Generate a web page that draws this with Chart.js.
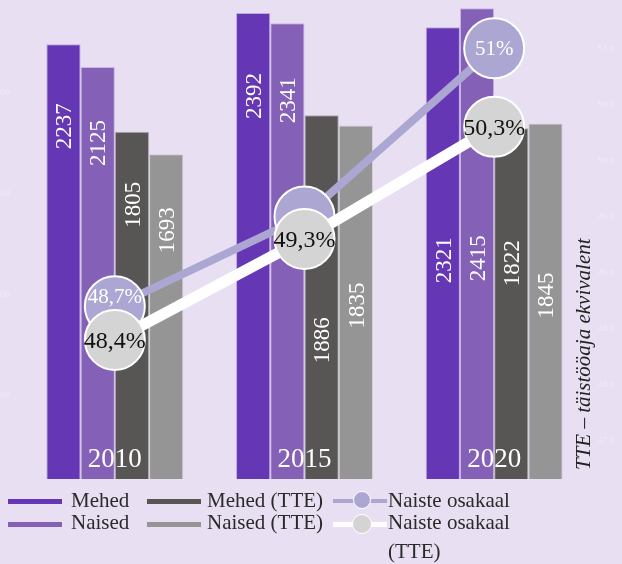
<!DOCTYPE html>
<html><head><meta charset="utf-8">
<script src="https://cdn.jsdelivr.net/npm/chart.js@4"></script>
<style>
html,body{margin:0;padding:0;background:#e8e0f2;}
#wrap{position:relative;width:622px;height:564px;overflow:hidden;background:#e8e0f2;}
canvas{position:absolute;left:0;top:0;}
.lg{position:absolute;font-family:"Liberation Serif",serif;font-size:21px;line-height:21px;color:#2a2a2a;white-space:nowrap;}
.mk{position:absolute;height:5px;width:54px;}
.dot{position:absolute;width:18px;height:18px;border-radius:50%;border:1.5px solid #fff;box-sizing:border-box;}
</style></head><body>
<div id="wrap">
<canvas id="c" width="622" height="564"></canvas>
<div class="mk" style="left:8px;top:499px;background:#6537b4"></div>
<div class="lg" style="left:71px;top:490px">Mehed</div>
<div class="mk" style="left:8px;top:522px;background:#8460b7"></div>
<div class="lg" style="left:71px;top:512px">Naised</div>
<div class="mk" style="left:147px;top:499px;background:#585654"></div>
<div class="lg" style="left:207px;top:490px">Mehed (TTE)</div>
<div class="mk" style="left:147px;top:522px;background:#959595"></div>
<div class="lg" style="left:207px;top:512px">Naised (TTE)</div>
<div class="mk" style="left:333px;top:499px;height:4px;background:#aca6d3"></div>
<div class="dot" style="left:353px;top:491px;background:#aca6d3"></div>
<div class="lg" style="left:388px;top:490px">Naiste osakaal</div>
<div class="mk" style="left:333px;top:522px;background:#ffffff"></div>
<div class="dot" style="left:352px;top:514px;width:20px;height:20px;background:#d4d4d4"></div>
<div class="lg" style="left:388px;top:508px;line-height:29px">Naiste osakaal<br>(TTE)</div>
</div>
<script>
const categories = ['2010', '2015', '2020'];
const mehed = [2237, 2392, 2321];
const naised = [2125, 2341, 2415];
const mehedTTE = [1805, 1886, 1822];
const naisedTTE = [1693, 1835, 1845];
const naisteOsakaal = [48.7, 49.5, 51.0];
const naisteOsakaalTTE = [48.4, 49.3, 50.3];
const leftTicks = [500, 1000, 1500, 2000];
const rightTicks = [47.5, 48.0, 48.5, 49.0, 49.5, 50.0, 50.5, 51.0];
const sideNote = 'TTE – täistööaja ekvivalent';

// layout: how far (px) below each bar top its value label starts [dataset][category]
const barLabelDrop = [[59, 60, 210], [53, 54, 227], [50, 202, 112], [53, 157, 149]];

const SERIF = '"Liberation Serif", serif';
function fmtPct(v) {
  return (Number.isInteger(v) ? String(v) : v.toFixed(1).replace('.', ',')) + '%';
}

const labelPlugin = {
  id: 'labels',
  afterDatasetDraw(chart, args) {
    const ctx = chart.ctx;
    const meta = args.meta;
    const di = args.index;
    ctx.save();
    if (meta.type === 'bar') {
      const fs = 23;
      ctx.font = fs + 'px ' + SERIF;
      ctx.fillStyle = '#ffffff';
      ctx.textAlign = 'right';
      ctx.textBaseline = 'alphabetic';
      meta.data.forEach((bar, i) => {
        const v = chart.data.datasets[di].data[i];
        ctx.save();
        ctx.translate(bar.x + 0.338 * fs, bar.y + barLabelDrop[di][i]);
        ctx.rotate(-Math.PI / 2);
        ctx.fillText(String(v), 0, 0);
        ctx.restore();
      });
    } else if (meta.type === 'line') {
      const ds = chart.data.datasets[di];
      const fs = ds.labelSize;
      ctx.font = fs + 'px ' + SERIF;
      ctx.fillStyle = ds.labelColor;
      ctx.textAlign = 'center';
      ctx.textBaseline = 'alphabetic';
      const otherMeta = ds.avoid != null ? chart.getDatasetMeta(ds.avoid) : null;
      meta.data.forEach((pt, i) => {
        let cy = pt.y;
        if (otherMeta) {
          const o = otherMeta.data[i];
          const d = Math.abs(o.y - pt.y);
          if (d < 25) return; // fully hidden behind the other circle
          const limit = o.y - 31 - 6 - 0.338 * fs;
          if (o.y > pt.y && cy > limit) cy = limit;
        }
        ctx.fillText(fmtPct(ds.data[i]), pt.x, cy + 0.338 * fs);
      });
    }
    ctx.restore();
  },
  afterDraw(chart) {
    const ctx = chart.ctx;
    const xs = chart.scales.x;
    const ys = chart.scales.y;
    const y2 = chart.scales.y2;
    ctx.save();
    ctx.font = '27px ' + SERIF;
    ctx.fillStyle = '#ffffff';
    ctx.textAlign = 'center';
    ctx.textBaseline = 'alphabetic';
    categories.forEach((c, i) => ctx.fillText(c, xs.getPixelForValue(i), 467));
    ctx.font = '9px ' + SERIF;
    ctx.fillStyle = 'rgba(255,255,255,0.35)';
    ctx.textAlign = 'right';
    ctx.textBaseline = 'middle';
    leftTicks.forEach(t => ctx.fillText(String(t), 10, ys.getPixelForValue(t)));
    ctx.textAlign = 'left';
    rightTicks.forEach(t => ctx.fillText(t.toFixed(1), 598, y2.getPixelForValue(t)));
    ctx.font = 'italic 21px ' + SERIF;
    ctx.fillStyle = '#222222';
    ctx.textAlign = 'left';
    ctx.textBaseline = 'alphabetic';
    ctx.translate(590, 470);
    ctx.rotate(-Math.PI / 2);
    ctx.fillText(sideNote, 0, 0);
    ctx.restore();
  }
};

const barBase = { type: 'bar', yAxisID: 'y', order: 2, borderWidth: 1, categoryPercentage: 0.722, barPercentage: 1.0 };

new Chart(document.getElementById('c'), {
  data: {
    labels: categories,
    datasets: [
      Object.assign({}, barBase, { label: 'Mehed', data: mehed, backgroundColor: '#6537b4', borderColor: 'rgba(150,115,210,0.5)' }),
      Object.assign({}, barBase, { label: 'Naised', data: naised, backgroundColor: '#8460b7', borderColor: 'rgba(170,140,210,0.5)' }),
      Object.assign({}, barBase, { label: 'Mehed (TTE)', data: mehedTTE, backgroundColor: '#585654', borderColor: 'rgba(120,120,120,0.5)' }),
      Object.assign({}, barBase, { label: 'Naised (TTE)', data: naisedTTE, backgroundColor: '#959595', borderColor: 'rgba(185,185,185,0.5)' }),
      { type: 'line', label: 'Naiste osakaal', data: naisteOsakaal, yAxisID: 'y2', order: 1,
        borderColor: '#aca6d3', borderWidth: 8, tension: 0, clip: false,
        pointRadius: 30, pointHoverRadius: 30, pointBackgroundColor: '#aca6d3', pointBorderColor: '#ffffff', pointBorderWidth: 2,
        labelColor: '#ffffff', labelSize: 21, avoid: 5 },
      { type: 'line', label: 'Naiste osakaal (TTE)', data: naisteOsakaalTTE, yAxisID: 'y2', order: 0,
        borderColor: '#ffffff', borderWidth: 11, tension: 0, clip: false,
        pointRadius: 30, pointHoverRadius: 30, pointBackgroundColor: '#d4d4d4', pointBorderColor: '#ffffff', pointBorderWidth: 2,
        labelColor: '#111111', labelSize: 24 }
    ]
  },
  options: {
    responsive: false,
    animation: false,
    layout: { autoPadding: false, padding: { left: 20, right: 33, top: 0, bottom: 85 } },
    plugins: { legend: { display: false }, tooltip: { enabled: false } },
    scales: {
      x: { type: 'category', display: false, offset: true, grid: { display: false } },
      y: { type: 'linear', display: false, min: 87, max: 2456 },
      y2: { type: 'linear', display: false, min: 47.16, max: 51.43 }
    }
  },
  plugins: [labelPlugin]
});
</script>
</body></html>
